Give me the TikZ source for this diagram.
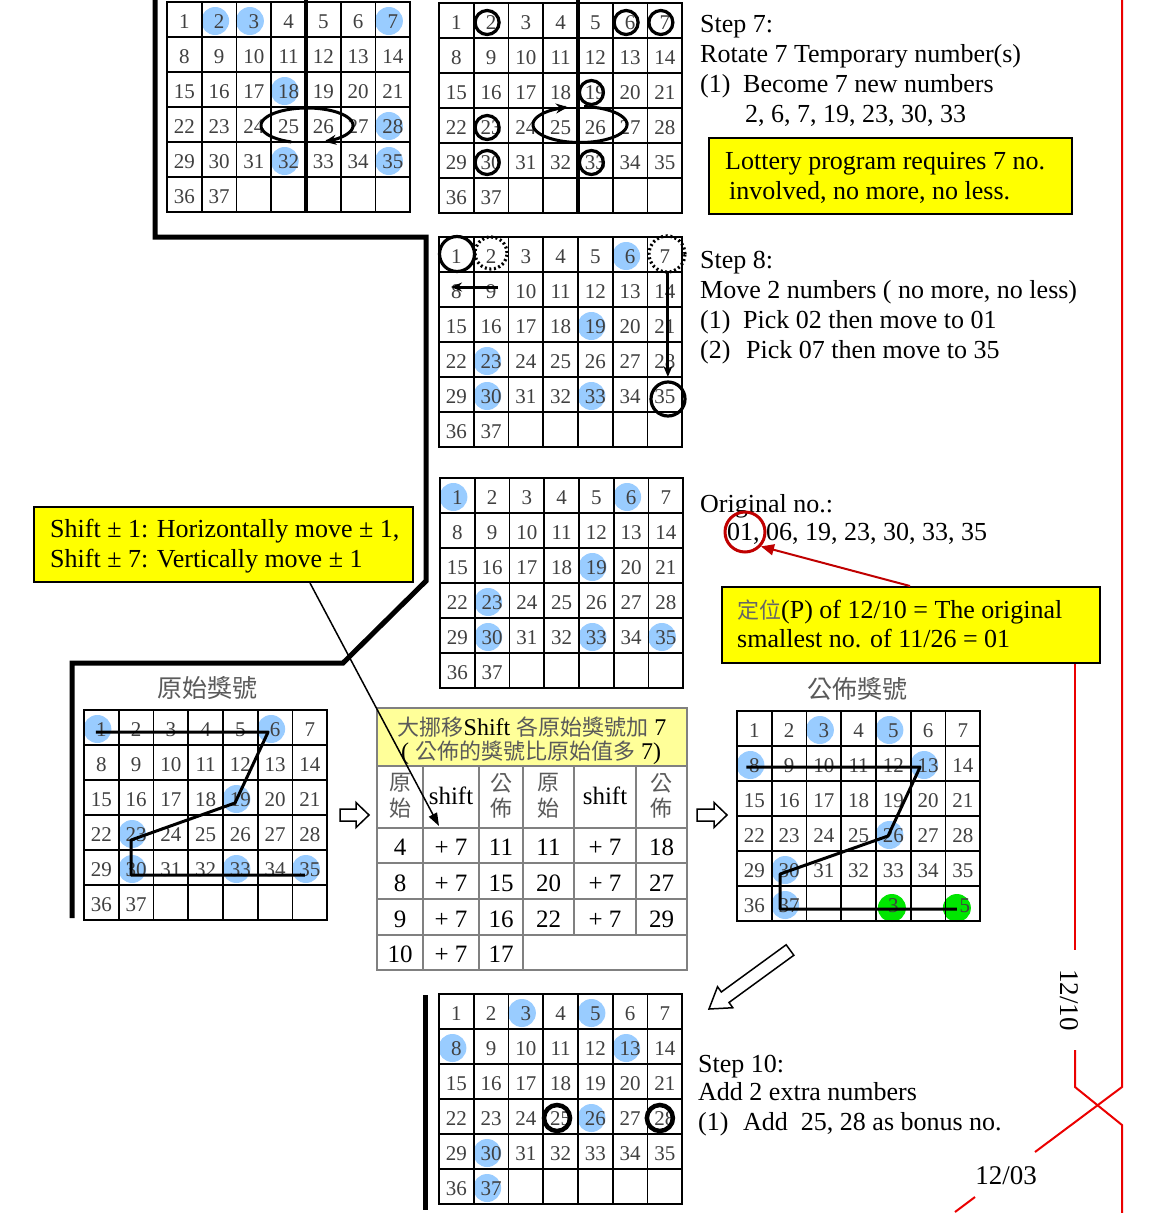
\documentclass[tikz,border=0pt]{standalone}
\usepackage{fontspec}
\setmainfont{Liberation Serif}
\newfontfamily\cjk{Noto Sans CJK TC}
\usetikzlibrary{calc,arrows.meta}
\definecolor{bluefill}{RGB}{153,204,255}
\definecolor{hdryellow}{RGB}{255,255,153}
\definecolor{boxyellow}{RGB}{255,255,0}
\definecolor{darkred}{RGB}{192,0,0}
\definecolor{brightred}{RGB}{235,0,0}
\definecolor{greenfill}{RGB}{0,230,0}
\definecolor{cjkgray}{RGB}{90,90,90}
\newcommand{\cjtext}[1]{{\cjk\fontsize{22}{22}\selectfont\color{cjkgray}#1}}
\newcommand{\gridcoords}[3]{%
  \foreach \n in {1,...,42} {%
    \pgfmathtruncatemacro{\cc}{mod(\n-1,7)}%
    \pgfmathtruncatemacro{\rr}{div(\n-1,7)}%
    \coordinate (#1c\n) at ({#2+(\cc+0.5)*34.75},{#3+(\rr+0.5)*35});%
  }%
}
\newcommand{\bluedots}[2]{%
  \foreach \n in {#2} {\fill[bluefill] ($(#1c\n)+(-4,1.5)$) circle[radius=14pt];}%
}
\newcommand{\gridlines}[2]{%
  \foreach \i in {1,...,6} {\draw[gridin] ({#1+\i*34.75},#2) -- ++(0,210);}%
  \foreach \j in {1,...,5} {\draw[gridin] (#1,{#2+\j*35}) -- ++(243.25,0);}%
  \draw[gridout] (#1,#2) rectangle ++(243.25,210);%
}
\newcommand{\lotnums}[1]{%
  \foreach \n in {1,...,37} {\node[num] (#1-\n) at ($(#1c\n)+(0,2.5)$) {\n};}%
}
\newcommand{\hollowarrow}[5]{%
  \coordinate (ha) at ($(#2)!#5!(#1)$);
  \draw[line width=1.5pt, fill=white, line join=miter]
    ($(#1)!#3!90:(#2)$) -- ($(ha)!#3!-90:(#1)$) -- ($(ha)!#4!-90:(#1)$) -- (#2)
    -- ($(ha)!#4!90:(#1)$) -- ($(ha)!#3!90:(#1)$) -- ($(#1)!#3!-90:(#2)$) -- cycle;
}
\begin{document}
\begin{tikzpicture}[x=1pt,y=-1pt,
  num/.style={font=\fontsize{21}{21}\selectfont, text=black!75, inner sep=0pt},
  txt/.style={font=\fontsize{26}{30}\selectfont, anchor=base west, inner sep=0pt},
  gridin/.style={line width=1.6pt},
  gridout/.style={line width=2.2pt},
  ring/.style={draw=black, line width=3.2pt},
  tline/.style={draw=black!50, line width=1.4pt},
  tnum/.style={font=\fontsize{25}{25}\selectfont, inner sep=0pt},
  cjkhead/.style={font=\cjk\fontsize{22}{22}\selectfont, text=cjkgray, inner sep=0pt},
  cjktitle/.style={font=\cjk\fontsize{25}{25}\selectfont, text=cjkgray, inner sep=0pt},
  hdr/.style={font=\fontsize{24}{24}\selectfont, inner sep=0pt},
  shifthead/.style={font=\fontsize{25}{25}\selectfont, inner sep=0pt},
  ybox/.style={draw=black, line width=2pt, fill=boxyellow, inner sep=0pt, anchor=north west},
  frame/.style={line width=5pt, line join=miter},
  redline/.style={draw=brightred, line width=2pt},
  redlabel/.style={font=\fontsize{27}{27}\selectfont, inner sep=0pt},
  tracepath/.style={line width=3pt, line join=round},
  rotarrow/.style={line width=3pt, -{Stealth[length=12pt,width=10pt]}},
  movearrow/.style={line width=3pt, -{Stealth[length=11pt,width=9pt]}}
]
\fill[white] (0,0) rectangle (1157,1213);
\useasboundingbox (0,0) rectangle (1157,1213);

% ---------- grids: coordinates ----------
\gridcoords{A}{167}{2}
\gridcoords{B}{439}{3}
\gridcoords{C}{439}{237}
\gridcoords{D}{440}{478}
\gridcoords{E}{84}{710}
\gridcoords{F}{737}{711}
\gridcoords{G}{439}{994}

% ---------- blue dots ----------
\bluedots{A}{2,3,7,18,28,32,35}
\bluedots{C}{6,19,23,30,33}
\bluedots{D}{1,6,19,23,30,33,35}
\bluedots{E}{1,6,19,23,30,33,35}
\bluedots{F}{3,5,8,13,26,30,37}
\bluedots{G}{3,5,8,13,26,30,37}
\fill[greenfill] ($(Fc40)+(-1.5,4.5)$) circle[radius=14pt];
\fill[greenfill] ($(Fc42)+(-6,4.5)$) circle[radius=14pt];

% ---------- grid lines ----------
\gridlines{167}{2}
\gridlines{439}{3}
\gridlines{439}{237}
\gridlines{440}{478}
\gridlines{84}{710}
\gridlines{737}{711}
\gridlines{439}{994}

% ---------- numbers ----------
\lotnums{A}
\lotnums{B}
\lotnums{C}
\lotnums{D}
\lotnums{E}
\lotnums{F}
\lotnums{G}
\node[num] (F-x3) at ($(Fc40)+(0,2)$) {3};
\node[num] (F-x5) at ($(Fc42)+(2,2)$) {5};

% ---------- big frame line ----------
\draw[frame] (155,-5) -- (155,237) -- (426,237) -- (426,581) -- (343,663) -- (72,663) -- (72,918);
\draw[line width=4.5pt] (306,0) -- (306,212);
\draw[line width=4.5pt] (578,0) -- (578,213);
\draw[line width=5pt] (425,995) -- (425,1210);

% ---------- step 7 rotation ----------
\draw[rotarrow] plot[domain=110:428, samples=90, smooth] ({307+46*cos(\x)},{125.5+17.5*sin(\x)});
\foreach \n in {2,6,7,19,23,30,33} {\draw[ring] ($(Bc\n)+(-4,2)$) circle[radius=12pt];}
\draw[rotarrow] plot[domain=-85:255, samples=90, smooth] ({580+47*cos(\x)},{124.5+18*sin(\x)});

% ---------- step 8 ----------
\draw[ring] (457,254) circle[radius=17.5pt];
\draw[line width=3.2pt, dash pattern=on 2pt off 2.6pt] (491,253) circle[radius=16pt];
\draw[line width=3.2pt, dash pattern=on 2pt off 2.6pt] (667,254) circle[radius=18pt];
\draw[ring] (668,399) circle[radius=17pt];
\draw[movearrow] ($(Cc9)+(7,-2.5)$) -- ($(Cc8)+(-5.4,-2.5)$);
\draw[movearrow] ($(Cc7)+(3,17.5)$) -- ($(Cc35)+(3,-17.5)$);

% ---------- trace paths ----------
\draw[tracepath] ($(Ec1)+(-5.4,4.5)$) -- ($(Ec6)+(-7,4.5)$) -- ($(Ec19)+(-5.4,5.5)$)
  -- ($(Ec23)+(-5,7.5)$) -- ($(Ec30)+(-5,7.5)$) -- ($(Ec35)+(-5,7.5)$);
\draw[tracepath] ($(Fc8)+(-8,3.5)$) -- ($(Fc13)+(-8,3.5)$) -- ($(Fc26)+(-5.4,2.5)$)
  -- ($(Fc30)+(-9,5.5)$) -- ($(Fc37)+(-9,5.5)$) -- ($(Fc42)+(-6,5.5)$);

% ---------- step 10 rings ----------
\draw[line width=4.5pt] ($(Gc25)+(-3.6,1.5)$) circle[radius=13pt];
\draw[line width=4.5pt] ($(Gc28)+(-5,1.5)$) circle[radius=13pt];

% ---------- titles ----------
\node[cjktitle] (titleE) at (207,688) {原始獎號};
\node[cjktitle] (titleF) at (857,689) {公佈獎號};

% ---------- table ----------
\fill[hdryellow] (377,708) rectangle (687,766);
\foreach \y in {766,828,863,899,935} {\draw[tline] (377,\y) -- (687,\y);}
\foreach \x in {423,479,523,574,636} {\draw[tline] (\x,766) -- (\x,935);}
\foreach \x in {423,479,523} {\draw[tline] (\x,935) -- (\x,970);}
\draw[tline] (377,708) rectangle (687,970);
\node[hdr] (th1) at (532,727) {\cjtext{大挪移}Shift \cjtext{各原始獎號加} 7};
\node[hdr] (th2) at (531,753) {( \cjtext{公佈的獎號比原始值多} 7)};
\node[cjkhead] (h1a) at (400,783) {原};
\node[cjkhead] (h1b) at (400,808) {始};
\node[shifthead] (h2) at (451,796) {shift};
\node[cjkhead] (h3a) at (501,783) {公};
\node[cjkhead] (h3b) at (501,808) {佈};
\node[cjkhead] (h4a) at (548.5,783) {原};
\node[cjkhead] (h4b) at (548.5,808) {始};
\node[shifthead] (h5) at (605,796) {shift};
\node[cjkhead] (h6a) at (661.5,783) {公};
\node[cjkhead] (h6b) at (661.5,808) {佈};
\node[tnum] (t1a) at (400,847.5) {4};
\node[tnum] (t1b) at (451,847.5) {+ 7};
\node[tnum] (t1c) at (501,847.5) {11};
\node[tnum] (t1d) at (548.5,847.5) {11};
\node[tnum] (t1e) at (605,847.5) {+ 7};
\node[tnum] (t1f) at (661.5,847.5) {18};
\node[tnum] (t2a) at (400,883) {8};
\node[tnum] (t2b) at (451,883) {+ 7};
\node[tnum] (t2c) at (501,883) {15};
\node[tnum] (t2d) at (548.5,883) {20};
\node[tnum] (t2e) at (605,883) {+ 7};
\node[tnum] (t2f) at (661.5,883) {27};
\node[tnum] (t3a) at (400,919) {9};
\node[tnum] (t3b) at (451,919) {+ 7};
\node[tnum] (t3c) at (501,919) {16};
\node[tnum] (t3d) at (548.5,919) {22};
\node[tnum] (t3e) at (605,919) {+ 7};
\node[tnum] (t3f) at (661.5,919) {29};
\node[tnum] (t4a) at (400,954.5) {10};
\node[tnum] (t4b) at (451,954.5) {+ 7};
\node[tnum] (t4c) at (501,954.5) {17};

% ---------- hollow arrows ----------
\coordinate (ar1t) at (340,815); \coordinate (ar1h) at (369,815);
\coordinate (ar2t) at (697,815); \coordinate (ar2h) at (727,815);
\coordinate (ar3t) at (790,950); \coordinate (ar3h) at (709,1009);
\hollowarrow{ar1t}{ar1h}{6pt}{12.5pt}{13pt}
\hollowarrow{ar2t}{ar2h}{6pt}{12.5pt}{13pt}
\hollowarrow{ar3t}{ar3h}{6.5pt}{13pt}{20pt}

% ---------- yellow boxes ----------
\node[ybox, minimum width=363pt, minimum height=76pt] (lotbox) at (708,137) {};
\node[ybox, minimum width=379pt, minimum height=75pt] (shiftbox) at (33,506) {};
\node[ybox, minimum width=378pt, minimum height=76pt] (pbox) at (721,586) {};

% ---------- texts ----------
\node[txt] (s7a) at (700,32) {Step 7:};
\node[txt] (s7b) at (700,62) {Rotate 7 Temporary number(s)};
\node[txt] (s7c) at (700,92) {\makebox[43pt][l]{(1)}Become 7 new numbers};
\node[txt] (s7d) at (745,122) {2, 6, 7, 19, 23, 30, 33};
\node[txt] (lot1) at (725,169) {Lottery program requires 7 no.};
\node[txt] (lot2) at (729,199) {involved, no more, no less.};
\node[txt] (s8a) at (700,268) {Step 8:};
\node[txt] (s8b) at (700,298) {Move 2 numbers ( no more, no less)};
\node[txt] (s8c) at (700,328) {\makebox[43pt][l]{(1)}Pick 02 then move to 01};
\node[txt] (s8d) at (700,358) {\makebox[46pt][l]{(2)}Pick 07 then move to 35};
\node[txt] (on1) at (700,512) {Original no.:};
\node[txt] (on2) at (727,540) {01, 06, 19, 23, 30, 33, 35};
\node[txt] (p1) at (737,618) {{\cjk\fontsize{22}{26}\selectfont\color{black!60}定位}(P) of 12/10 = The original};
\node[txt] (p2) at (737,647) {smallest no. of 11/26 = 01};
\node[txt] (sh1) at (50,537) {Shift ± 1: Horizontally move ± 1,};
\node[txt] (sh2) at (50,567) {Shift ± 7: Vertically move ± 1};
\node[txt] (s10a) at (698,1072) {Step 10:};
\node[txt] (s10b) at (698,1100) {Add 2 extra numbers};
\node[txt] (s10c) at (698,1130) {\makebox[45pt][l]{(1)}Add\ \ 25, 28 as bonus no.};

% ---------- pointer lines ----------
\coordinate (shifttip) at (439,826);
\draw[line width=1.5pt, -{Triangle[length=13pt,width=9pt]}] ($(shiftbox.south west)+(277,0)$) -- (shifttip);
\node[circle, draw=darkred, line width=3pt, minimum size=40pt, inner sep=0pt] (c01) at (745,532) {};
\draw[darkred, line width=2pt, -{Triangle[length=13pt,width=11pt]}] ($(pbox.north west)+(189,0)$) -- (c01.-42);

% ---------- red date lines ----------
\node[redlabel] (d1203) at (1006,1176) {12/03};
\node[redlabel, rotate=-90] (d1210) at (1069,1000) {12/10};
\draw[redline] (1122,0) -- (1122,1087) -- (1035,1152);
\draw[redline] (975,1197) -- (955,1212);
\draw[redline] ($(pbox.south west)+(354,0)$) -- (1075,950);
\draw[redline] (1075,1050) -- (1075,1087) -- (1122,1125) -- (1122,1213);
\end{tikzpicture}
\end{document}
